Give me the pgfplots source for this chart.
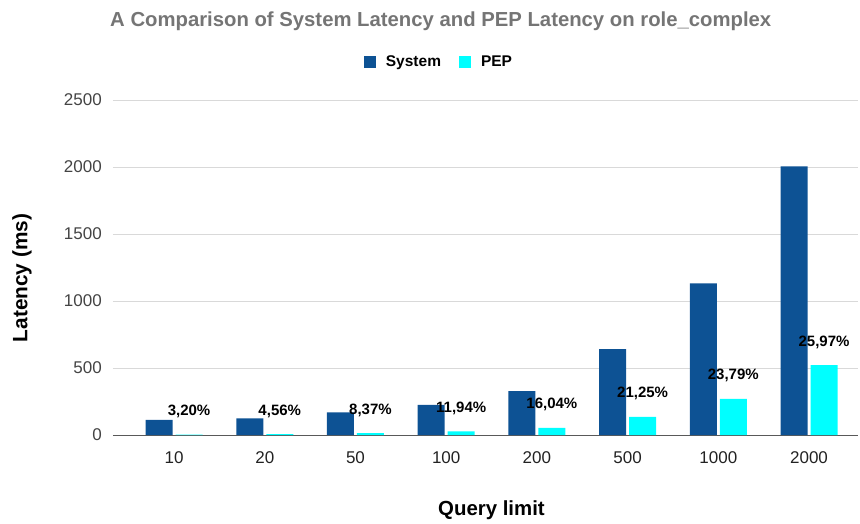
\documentclass[border=0pt]{standalone}
\usepackage{pgfplots}
\pgfplotsset{compat=1.18}
\usepackage{fontspec}
\setmainfont{Liberation Sans}
\definecolor{sys}{RGB}{13,82,148}
\definecolor{pep}{RGB}{0,255,255}
\definecolor{titlegray}{RGB}{117,117,117}
\definecolor{ylab}{RGB}{68,68,68}
\definecolor{xlab}{RGB}{34,34,34}
\begin{document}
\begin{tikzpicture}[x=1pt,y=1pt]
\useasboundingbox (0,0) rectangle (860,523);
\begin{axis}[
  at={(113pt,88pt)}, anchor=south west,
  width=745pt, height=335pt, scale only axis,
  ymin=0, ymax=2500, ytick={0,500,1000,1500,2000,2500},
  xmin=-0.673, xmax=7.54,
  xtick={0,1,2,3,4,5,6,7},
  xticklabels={10,20,50,100,200,500,1000,2000},
  axis x line*=bottom, axis y line*=left,
  x axis line style={-, draw=gray!70!black, line width=1pt},
  y axis line style={draw=none},
  major tick length=0pt, tick style={draw=none},
  ymajorgrids, grid style={draw=black!15, line width=1pt},
  yticklabel style={anchor=east, inner sep=0pt, xshift=-11pt, text=ylab, font=\fontsize{17}{20}\selectfont},
  xticklabel style={anchor=north, inner sep=0pt, yshift=-16pt, text=xlab, font=\fontsize{17}{20}\selectfont},
  /pgf/number format/assume math mode=true,
  /pgf/number format/1000 sep={},
  ybar=3pt, bar width=27pt,
  title={A Comparison of System Latency and PEP Latency on role\_complex},
  title style={at={(rel axis cs:-0.004,1.2188)}, anchor=base west, yshift=-6pt, inner sep=0pt, text=titlegray, font=\bfseries\fontsize{20.3}{24}\selectfont},
  xlabel={Query limit},
  xlabel style={at={(rel axis cs:0.508,-0.2388)}, anchor=base, inner sep=0pt, font=\bfseries\fontsize{20.4}{24}\selectfont},
  ylabel={Latency (ms)},
  ylabel style={at={(rel axis cs:-0.1221,0.4687)}, anchor=center, rotate=0, font=\bfseries\fontsize{20.8}{24}\selectfont},
  legend style={at={(rel axis cs:0.4362,1.1143)}, anchor=center, draw=none, fill=none, inner sep=0pt,
    legend columns=2, font=\bfseries\fontsize{15.5}{18}\selectfont,
    nodes={inner sep=0pt},
    /tikz/every odd column/.append style={column sep=10pt},
    /tikz/every even column/.append style={column sep=18pt}},
  legend image code/.code={\fill[#1] (0pt,-6pt) rectangle (12pt,6pt);},
]
\addplot[fill=sys, draw=none] coordinates {
  (0,112) (1,125) (2,169) (3,224) (4,328) (5,640) (6,1132) (7,2005)};
\addlegendentry{System}
\addplot[fill=pep, draw=none,
  point meta=explicit symbolic,
  nodes near coords,
  nodes near coords style={anchor=south, inner sep=0pt, yshift=16.5pt, text=black, font=\bfseries\fontsize{15}{18}\selectfont}]
  coordinates {
  (0,3.6) [3,20\%]
  (1,5.7) [4,56\%]
  (2,14.1) [8,37\%]
  (3,26.7) [11,94\%]
  (4,52.6) [16,04\%]
  (5,136) [21,25\%]
  (6,269) [23,79\%]
  (7,521) [25,97\%]};
\addlegendentry{PEP}
\end{axis}
\end{tikzpicture}
\end{document}
